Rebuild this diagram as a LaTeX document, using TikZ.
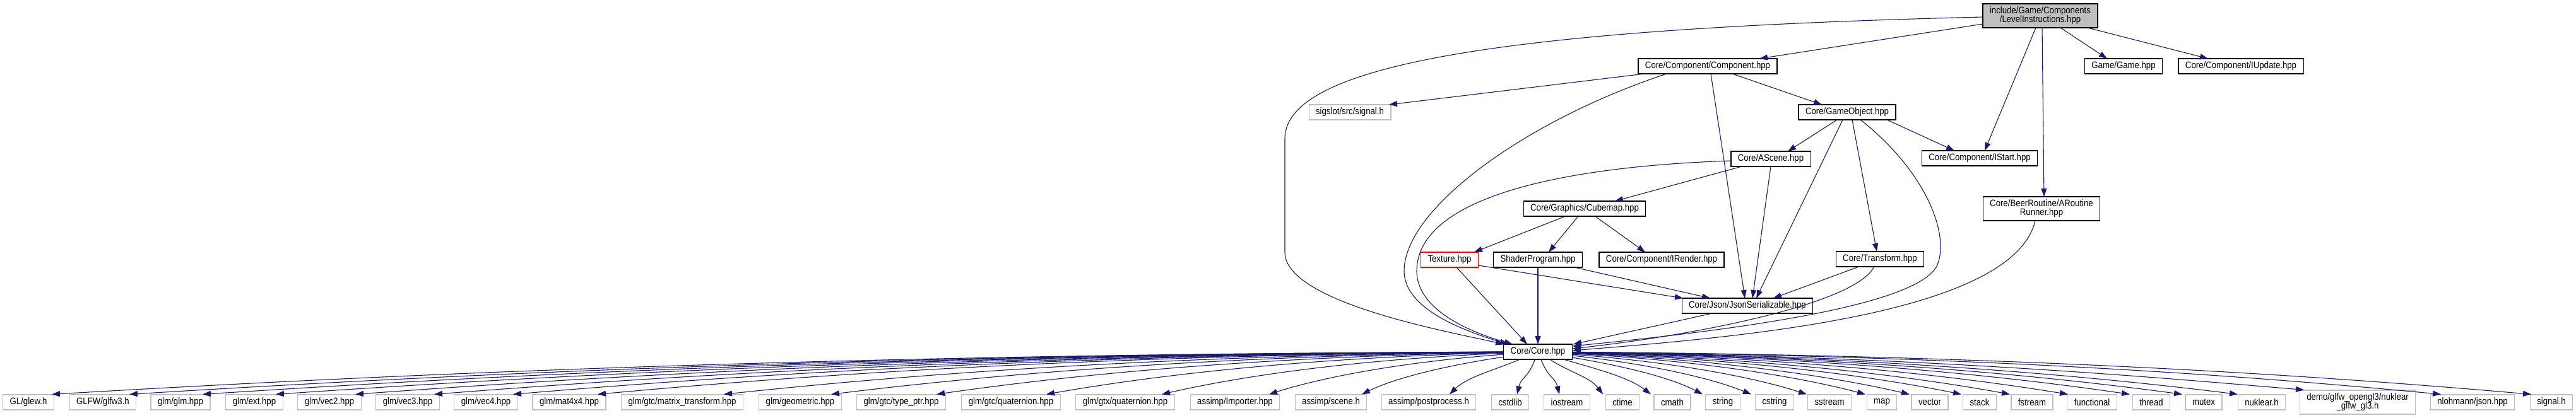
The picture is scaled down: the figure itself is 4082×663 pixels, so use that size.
\documentclass[tikz,border=0pt]{standalone}
\usepackage{fontspec}
\setmainfont{Liberation Sans}[FakeStretch=0.88]
\usetikzlibrary{arrows.meta,calc}
\definecolor{edgeblue}{HTML}{191970}
\definecolor{grey75}{HTML}{BFBFBF}
\tikzset{
 file/.style={draw=black, line width=1.2pt, fill=white, inner xsep=11pt, inner ysep=0pt,
   minimum height=24pt, font=\fontsize{15}{14}\selectfont, align=center},
 ext/.style={file, draw=grey75},
 edge/.style={draw=edgeblue, line width=1.1pt, -{Triangle[length=13pt,width=9pt]}},
}
\begin{document}
\begin{tikzpicture}[x=1pt,y=-1pt]
\fill[white] (0,0) rectangle (4082,663);
\useasboundingbox (0,0) rectangle (4082,663);
% upper nodes
\node[file, fill=grey75, minimum height=38pt] (top) at (3233,25) {include/Game/Components\\/LevelInstructions.hpp};
\node[file] (game) at (3365,105) {Game/Game.hpp};
\node[file] (iupdate) at (3551,105) {Core/Component/IUpdate.hpp};
\node[file] (component) at (2706,105) {Core/Component/Component.hpp};
\node[ext] (sigslot) at (2139,178) {sigslot/src/signal.h};
\node[file] (gameobject) at (2927,178) {Core/GameObject.hpp};
\node[file] (ascene) at (2806,252) {Core/AScene.hpp};
\node[file] (istart) at (3137,251) {Core/Component/IStart.hpp};
\node[file] (cubemap) at (2511,331) {Core/Graphics/Cubemap.hpp};
\node[file, minimum height=38pt] (routine) at (3235,331) {Core/BeerRoutine/ARoutine\\Runner.hpp};
\node[file, draw=red] (texture) at (2297,412) {Texture.hpp};
\node[file] (shader) at (2437,412) {ShaderProgram.hpp};
\node[file] (irender) at (2633,412) {Core/Component/IRender.hpp};
\node[file] (transform) at (2979,411) {Core/Transform.hpp};
\node[file] (json) at (2769,485) {Core/Json/JsonSerializable.hpp};
\node[file] (core) at (2437,558) {Core/Core.hpp};
% bottom row
\node[ext] (glew) at (45,638) {GL/glew.h};
\node[ext] (glfw) at (163,638) {GLFW/glfw3.h};
\node[ext] (glm) at (286,638) {glm/glm.hpp};
\node[ext] (ext) at (403,638) {glm/ext.hpp};
\node[ext] (vec2) at (522,638) {glm/vec2.hpp};
\node[ext] (vec3) at (646,638) {glm/vec3.hpp};
\node[ext] (vec4) at (770,638) {glm/vec4.hpp};
\node[ext] (mat4) at (902,638) {glm/mat4x4.hpp};
\node[ext] (mtrans) at (1081,638) {glm/gtc/matrix\_transform.hpp};
\node[ext] (geom) at (1268,638) {glm/geometric.hpp};
\node[ext] (typeptr) at (1428,638) {glm/gtc/type\_ptr.hpp};
\node[ext] (gtcq) at (1602,638) {glm/gtc/quaternion.hpp};
\node[ext] (gtxq) at (1783,638) {glm/gtx/quaternion.hpp};
\node[ext] (importer) at (1957,638) {assimp/Importer.hpp};
\node[ext] (scene) at (2109,638) {assimp/scene.h};
\node[ext] (postproc) at (2264,638) {assimp/postprocess.h};
\node[ext] (cstdlib) at (2393,638) {cstdlib};
\node[ext] (iostream) at (2483,638) {iostream};
\node[ext] (ctime) at (2571,638) {ctime};
\node[ext] (cmath) at (2650,638) {cmath};
\node[ext] (string) at (2730,638) {string};
\node[ext] (cstring) at (2812,638) {cstring};
\node[ext] (sstream) at (2899,638) {sstream};
\node[ext] (map) at (2982,638) {map};
\node[ext] (vector) at (3058,638) {vector};
\node[ext] (stack) at (3137,638) {stack};
\node[ext] (fstream) at (3220,638) {fstream};
\node[ext] (functional) at (3315,638) {functional};
\node[ext] (thread) at (3409,638) {thread};
\node[ext] (mutex) at (3492,638) {mutex};
\node[ext] (nuklear) at (3584,638) {nuklear.h};
\node[ext, minimum height=38pt] (demo) at (3736,638) {demo/glfw\_opengl3/nuklear\\\_glfw\_gl3.h};
\node[ext] (nlohmann) at (3918,638) {nlohmann/json.hpp};
\node[ext] (signal) at (4043,638) {signal.h};
% upper edges
\draw[edge] ($(top)+(-91,13)$) -- ($(component)+(82,-12)$);
\draw[edge] ($(top)+(-91,2)$) .. controls (2400,45) and (2036,100) .. (2036,220) -- (2036,400) .. controls (2036,480) and (2300,527) .. ($(core)+(-54,-12)$);
\draw[edge] ($(top)+(-7,19)$) -- ($(istart)+(8,-12)$);
\draw[edge] ($(top)+(3,19)$) -- ($(routine)+(4,-19)$);
\draw[edge] ($(top)+(32,19)$) -- ($(game)+(-26,-12)$);
\draw[edge] ($(top)+(75,19)$) -- ($(iupdate)+(-52,-12)$);
\draw[edge] ($(component)+(-100,12)$) -- ($(sigslot)+(62,-12)$);
\draw[edge] ($(component)+(-65,12)$) .. controls (2420,190) and (2225,330) .. (2225,430) .. controls (2225,490) and (2320,525) .. ($(core)+(-47,-12)$);
\draw[edge] ($(component)+(5,12)$) -- ($(json)+(-4,-12)$);
\draw[edge] ($(component)+(39,12)$) -- ($(gameobject)+(-40,-12)$);
\draw[edge] ($(gameobject)+(-16,12)$) -- ($(ascene)+(27,-12)$);
\draw[edge] ($(gameobject)+(-7,12)$) -- ($(json)+(14,-12)$);
\draw[edge] ($(gameobject)+(8,12)$) -- ($(transform)+(-5,-12)$);
\draw[edge] ($(gameobject)+(21,12)$) .. controls (3050,270) and (3090,370) .. (3070,420) .. controls (3040,490) and (2700,528) .. ($(core)+(55,-9)$);
\draw[edge] ($(gameobject)+(63,12)$) -- ($(istart)+(-40,-12)$);
\draw[edge] ($(ascene)+(-63,3)$) .. controls (2450,265) and (2245,320) .. (2245,430) .. controls (2245,495) and (2340,530) .. ($(core)+(-40,-12)$);
\draw[edge] ($(ascene)+(-46,12)$) -- ($(cubemap)+(48,-12)$);
\draw[edge] ($(ascene)+(0,12)$) -- ($(json)+(8,-12)$);
\draw[edge] ($(cubemap)+(-33,13)$) -- ($(texture)+(39,-12)$);
\draw[edge] ($(cubemap)+(-11,13)$) -- ($(shader)+(17,-12)$);
\draw[edge] ($(cubemap)+(18,13)$) -- ($(irender)+(-26,-12)$);
\draw[edge] ($(texture)+(46,9)$) -- ($(json)+(-102,-12)$);
\draw[edge] ($(texture)+(11,12)$) -- ($(core)+(-17,-12)$);
\draw[edge] ($(shader)+(58,12)$) -- ($(json)+(-59,-12)$);
\draw[edge] ($(shader)+(0,12)$) -- ($(core)+(0,-12)$);
\draw[edge] ($(transform)+(-36,13)$) -- ($(json)+(41,-12)$);
\draw[edge] ($(transform)+(-10,13)$) .. controls (2940,480) and (2700,530) .. ($(core)+(55,-5)$);
\draw[edge] ($(routine)+(-10,19)$) .. controls (3190,500) and (2750,535) .. ($(core)+(55,-2)$);
\draw[edge] ($(json)+(-56,12)$) -- ($(core)+(56,-12)$);
% edges from core to the bottom row
\foreach \n/\x/\o in {glew/45/37, glfw/163/42, glm/286/35, ext/403/34, vec2/522/41, vec3/646/42,
  vec4/770/43, mat4/902/45, mtrans/1081/66, geom/1268/49, typeptr/1428/56, gtcq/1602/56,
  gtxq/1783/58, importer/1957/54, scene/2109/49, postproc/2264/33, cstdlib/2393/11,
  iostream/2483/-12, ctime/2571/-31, cmath/2650/-34, string/2730/-32, cstring/2812/-37,
  sstream/2899/-36, map/2982/-26, vector/3058/-32, stack/3137/-29, fstream/3220/-35,
  functional/3315/-38, thread/3409/-34, mutex/3492/-34, nuklear/3584/-38, demo/3736/-85,
  nlohmann/3918/-50, signal/4043/-32} {
  \pgfmathsetmacro\tx{\x+\o}
  \pgfmathsetmacro\dx{\tx-2437}
  \pgfmathsetmacro\cy{558+50*200/(200+abs(\dx))}
  \pgfmathsetmacro\cx{2437+0.5*\dx}
  \pgfmathsetmacro\ccx{\tx-0.2*\dx}
  \draw[edge] (core) .. controls (\cx,\cy) and (\ccx,598) .. ([xshift=\o pt]\n.north);
}
\end{tikzpicture}
\end{document}
